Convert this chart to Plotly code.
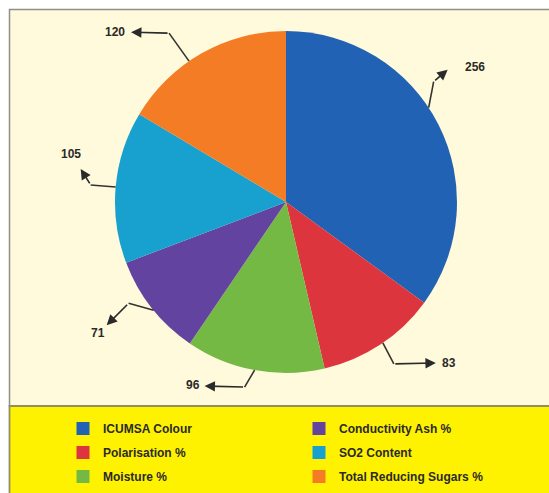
import math
import plotly.graph_objects as go

# ---------------- data ----------------
categories = ["ICUMSA Colour", "Polarisation %", "Moisture %",
              "Conductivity Ash %", "SO2 Content", "Total Reducing Sugars %"]
values = [256, 83, 96, 71, 105, 120]
colors = ["#2162b4", "#dc353e", "#74b944", "#6343a0", "#18a0cf", "#f47c25"]
legend_col1 = ["ICUMSA Colour", "Polarisation %", "Moisture %"]
legend_col2 = ["Conductivity Ash %", "SO2 Content", "Total Reducing Sugars %"]

# ---------------- layout constants (pixels) ----------------
W, H = 549, 493
CX, CY, R = 286, 202, 171
# per-slice label routing: angle nudge (deg), elbow offset, arrow tip offset, label offset
route = [
    dict(nudge=-6.5, elbow=(5, -26), tip=(19, -38), label=(46, -41)),
    dict(nudge=-1, elbow=(11, 21), tip=(53, 20), label=(66, 20)),
    dict(nudge=0, elbow=(-10, 17), tip=(-50, 16), label=(-62, 15)),
    dict(nudge=-1, elbow=(-25, -7), tip=(-47, 15), label=(-56, 23)),
    dict(nudge=0, elbow=(-25, -2), tip=(-35, -18), label=(-45, -33)),
    dict(nudge=-5, elbow=(-20, -28), tip=(-58, -29), label=(-74, -29)),
]

fig = go.Figure()

fig.add_trace(go.Pie(
    labels=categories, values=values, sort=False, direction="clockwise",
    rotation=0, marker=dict(colors=colors, line=dict(width=0)),
    textinfo="none", hoverinfo="label+value", showlegend=False,
    domain=dict(x=[(CX - R) / W, (CX + R) / W],
                y=[1 - (CY + R) / H, 1 - (CY - R) / H]),
))

# legend entries (column-major like the reference)
cmap = dict(zip(categories, colors))
for col, names in (("legend", legend_col1), ("legend2", legend_col2)):
    for n in names:
        fig.add_trace(go.Scatter(
            x=[None], y=[None], mode="markers", name=n, legend=col,
            legendgroup=n,
            marker=dict(symbol="square", size=13, color=cmap[n]),
        ))

shapes = [
    dict(type="rect", xref="x", yref="y", x0=9.5, y0=9.5, x1=W + 5, y1=406,
         fillcolor="#fffadb", line=dict(color="#8f8f88", width=1.5), layer="below"),
    dict(type="rect", xref="x", yref="y", x0=9.5, y0=406, x1=W + 5, y1=H + 5,
         fillcolor="#fff200", line=dict(color="#8f8f60", width=1.8), layer="below"),
]
annotations = []

total = sum(values)
start = 0.0
for v, rt in zip(values, route):
    span = 360.0 * v / total
    ang = math.radians(start + span / 2 + rt["nudge"])
    start += span
    ex, ey = CX + R * math.sin(ang), CY - R * math.cos(ang)
    bx, by = ex + rt["elbow"][0], ey + rt["elbow"][1]
    tx, ty = ex + rt["tip"][0], ey + rt["tip"][1]
    lx, ly = ex + rt["label"][0], ey + rt["label"][1]
    shapes.append(dict(type="line", xref="x", yref="y", x0=ex, y0=ey, x1=bx, y1=by,
                       line=dict(color="#333333", width=1.6), layer="above"))
    annotations.append(dict(x=tx, y=ty, ax=bx, ay=by, xref="x", yref="y",
                            axref="x", ayref="y", text="", showarrow=True,
                            arrowhead=2, arrowsize=1.3, arrowwidth=1.6,
                            arrowcolor="#2a2a2a"))
    annotations.append(dict(x=lx, y=ly, xref="x", yref="y", text=str(v),
                            showarrow=False,
                            font=dict(family="Liberation Sans, Arial", size=12,
                                      color="#2a2a2a", weight="bold")))

legend_style = dict(
    bgcolor="rgba(0,0,0,0)", borderwidth=0, orientation="v",
    font=dict(family="Liberation Sans, Arial", size=12, color="#2a2a2a", weight="bold"),
    tracegroupgap=5, itemclick=False, itemdoubleclick=False,
    xanchor="left", yanchor="top",
)

fig.update_layout(
    width=W, height=H, margin=dict(l=0, r=0, t=0, b=0),
    paper_bgcolor="white", plot_bgcolor="rgba(0,0,0,0)",
    xaxis=dict(range=[0, W], visible=False, fixedrange=True, domain=[0, 1]),
    yaxis=dict(range=[H, 0], visible=False, fixedrange=True, domain=[0, 1]),
    shapes=shapes, annotations=annotations,
    legend=dict(x=63 / W, y=1 - 414 / H, **legend_style),
    legend2=dict(x=299 / W, y=1 - 414 / H, **legend_style),
    showlegend=True,
)

fig.write_html("out.html")
